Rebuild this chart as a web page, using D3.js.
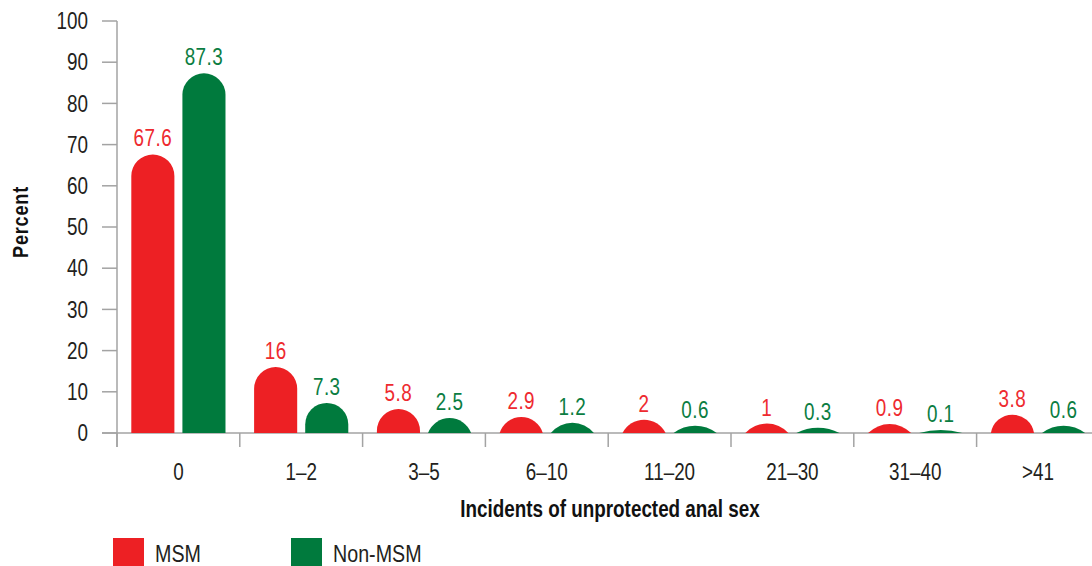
<!DOCTYPE html>
<html>
<head>
<meta charset="utf-8">
<script src="https://cdn.jsdelivr.net/npm/d3@7"></script>
<style>
  body { margin: 0; background: #fff; }
  svg { display: block; font-family: "Liberation Sans", Arial, sans-serif; }
</style>
</head>
<body>
<div id="chart"></div>
<script>
// Incidents of unprotected anal sex, MSM vs Non-MSM (percent)
const categories = ['0', '1–2', '3–5', '6–10', '11–20', '21–30', '31–40', '>41'];
const seriesNames = ['MSM', 'Non-MSM'];
const msmValues = [67.6, 16, 5.8, 2.9, 2, 1, 0.9, 3.8];
const nonMsmValues = [87.3, 7.3, 2.5, 1.2, 0.6, 0.3, 0.1, 0.6];
const yTicks = [0, 10, 20, 30, 40, 50, 60, 70, 80, 90, 100];

const colors = { 'MSM': '#ed2024', 'Non-MSM': '#007a3d' };
const labelColors = { 'MSM': '#ee2a2f', 'Non-MSM': '#0b7d42' };

const width = 1092;
const height = 566;
const axisColor = '#a3a3a3';
const textColor = '#231f20';
const narrow = 0.82; // condensed look (no narrow font installed)

const svg = d3.select('#chart').append('svg')
  .attr('width', width)
  .attr('height', height);

// Scales
const x0 = d3.scaleBand()
  .domain(categories)
  .range([117, 117 + 8 * 122.8]);

const x1 = d3.scaleBand()
  .domain(seriesNames)
  .range([0, x0.bandwidth()])
  .paddingInner(8 / 51)
  .paddingOuter(0.28);

const y = d3.scaleLinear()
  .domain([0, 100])
  .range([433, 21]);

const rows = categories.map((c, i) => ({
  category: c,
  values: [
    { series: 'MSM', value: msmValues[i] },
    { series: 'Non-MSM', value: nonMsmValues[i] }
  ]
}));

// Bar with a rounded (domed) top; short bars become a shallow cap
function domeBar(x, w, v) {
  const base = y(0);
  const r = w / 2;
  let h = base - y(v);
  if (h >= r) {
    const top = base - h;
    return `M${x},${base}V${top + r}A${r},${r} 0 0 1 ${x + w},${top + r}V${base}Z`;
  }
  h = r * Math.sqrt(h / r); // keep tiny values visible, like the original
  const R = (r * r + h * h) / (2 * h);
  return `M${x},${base}A${R},${R} 0 0 1 ${x + w},${base}Z`;
}

function capTop(v, w) {
  const r = w / 2;
  const h = y(0) - y(v);
  return h >= r ? y(v) : y(0) - r * Math.sqrt(h / r);
}

const squeeze = (x, yy) => `translate(${x},${yy}) scale(${narrow},1)`;

// Y axis
const yAxis = svg.append('g').attr('class', 'y-axis');
yAxis.append('line')
  .attr('x1', 117).attr('x2', 117)
  .attr('y1', y(100)).attr('y2', y(0) + 14)
  .attr('stroke', axisColor).attr('stroke-width', 1.5);

yAxis.selectAll('.tick')
  .data(yTicks)
  .enter().append('line')
  .attr('x1', 102).attr('x2', 117)
  .attr('y1', d => y(d)).attr('y2', d => y(d))
  .attr('stroke', axisColor).attr('stroke-width', 1.5);

yAxis.selectAll('.tick-label')
  .data(yTicks)
  .enter().append('text')
  .attr('transform', d => squeeze(88, y(d)))
  .attr('dy', '0.36em')
  .attr('text-anchor', 'end')
  .style('font-size', '23px')
  .style('fill', textColor)
  .text(d => d);

// X axis
const xAxis = svg.append('g').attr('class', 'x-axis');
xAxis.append('line')
  .attr('x1', 102).attr('x2', width)
  .attr('y1', y(0)).attr('y2', y(0))
  .attr('stroke', axisColor).attr('stroke-width', 1.5);

xAxis.selectAll('.cat-tick')
  .data(categories)
  .enter().append('line')
  .attr('x1', d => x0(d)).attr('x2', d => x0(d))
  .attr('y1', y(0)).attr('y2', y(0) + 14)
  .attr('stroke', axisColor).attr('stroke-width', 1.5);

xAxis.selectAll('.cat-label')
  .data(categories)
  .enter().append('text')
  .attr('transform', d => squeeze(x0(d) + x0.bandwidth() / 2, 480))
  .attr('text-anchor', 'middle')
  .style('font-size', '23px')
  .style('fill', textColor)
  .text(d => d);

// Bars
const groups = svg.selectAll('.cat-group')
  .data(rows)
  .enter().append('g')
  .attr('class', 'cat-group')
  .attr('transform', d => `translate(${x0(d.category)},0)`);

groups.selectAll('path')
  .data(d => d.values)
  .enter().append('path')
  .attr('d', d => domeBar(x1(d.series), x1.bandwidth(), d.value))
  .style('fill', d => colors[d.series]);

groups.selectAll('.value-label')
  .data(d => d.values)
  .enter().append('text')
  .attr('class', 'value-label')
  .attr('transform', d => squeeze(x1(d.series) + x1.bandwidth() / 2, capTop(d.value, x1.bandwidth()) - 8))
  .attr('text-anchor', 'middle')
  .style('font-size', '23px')
  .style('letter-spacing', '0.6px')
  .style('fill', d => labelColors[d.series])
  .text(d => d.value);

// Axis titles
svg.append('text')
  .attr('transform', squeeze(610, 517))
  .attr('text-anchor', 'middle')
  .style('font-size', '23px')
  .style('font-weight', 'bold')
  .style('fill', '#111')
  .text('Incidents of unprotected anal sex');

svg.append('text')
  .attr('transform', 'translate(28,222) rotate(-90) scale(' + narrow + ',1)')
  .attr('text-anchor', 'middle')
  .style('font-size', '22px')
  .style('font-weight', 'bold')
  .style('letter-spacing', '1px')
  .style('fill', '#111')
  .text('Percent');

// Legend
const legend = svg.selectAll('.legend')
  .data(seriesNames)
  .enter().append('g')
  .attr('class', 'legend')
  .attr('transform', (d, i) => `translate(${i === 0 ? 113 : 291},538)`);

legend.append('rect')
  .attr('width', 31)
  .attr('height', 28)
  .style('fill', d => colors[d]);

legend.append('text')
  .attr('transform', squeeze(42, 24))
  .style('font-size', '24px')
  .style('fill', textColor)
  .text(d => d);
</script>
</body>
</html>
